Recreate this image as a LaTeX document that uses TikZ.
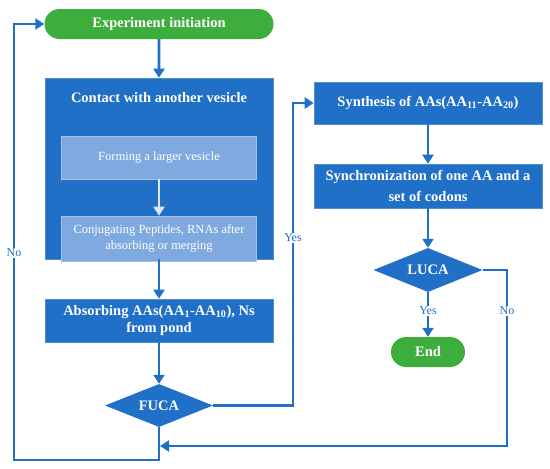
\documentclass[tikz,border=0pt]{standalone}
\usepackage{fontspec}
\setmainfont{Liberation Serif}
\usetikzlibrary{shapes.geometric, shapes.misc, positioning, arrows.meta}
\definecolor{boxblue}{HTML}{2070C8}
\definecolor{paleblue}{HTML}{80AADF}
\definecolor{arrowpale}{HTML}{DCE6F5}
\definecolor{pillgreen}{HTML}{3DAD3D}
\begin{document}
\begin{tikzpicture}[x=1pt,y=-1pt,on grid,
  >={Triangle[length=9pt,width=11pt]},
  every node/.style={inner sep=0pt,text=white,font=\fontsize{14.5}{17}\selectfont\bfseries},
  pill/.style={rounded rectangle,fill=pillgreen,minimum height=30pt},
  block/.style={rectangle,fill=boxblue,draw=boxblue!80!white,line width=0.6pt,minimum width=228pt,align=center},
  inner/.style={rectangle,fill=paleblue,draw=paleblue!70!white,line width=0.6pt,minimum width=195pt,align=center,font=\fontsize{12.5}{16}\selectfont},
  choice/.style={diamond,aspect=2.5,fill=boxblue,minimum width=108pt,minimum height=43pt},
  flow/.style={draw=boxblue,line width=2.9pt},
  innerflow/.style={draw=arrowpale,line width=2.9pt},
  answer/.style={fill=white,text=boxblue,font=\fontsize{12}{13}\selectfont,inner sep=1.5pt}]
  \useasboundingbox (0,0) rectangle (550,469);
  \node[pill,minimum width=229pt] (init) at (159,24) {Experiment initiation};
  \node[block,minimum height=181pt] (contact) [below=144.5pt of init] {};
  \node (contacttitle) [below=15pt of contact.north] {Contact with another vesicle};
  \node[inner,minimum height=43pt] (forming) [below=58pt of contact.north] {Forming a larger vesicle};
  \node[inner,minimum height=45pt] (conj) [below=81pt of forming] {Conjugating Peptides, RNAs after\\absorbing or merging};
  \node[block,minimum height=43pt] (absorb) [below=152pt of contact] {Absorbing AAs(AA\textsubscript{1}-AA\textsubscript{10}), Ns\\from pond};
  \node[choice] (fuca) [below=85pt of absorb] {FUCA};
  \node[block,minimum height=42pt] (synth) at (428,103) {Synthesis of AAs(AA\textsubscript{11}-AA\textsubscript{20})};
  \node[block,minimum height=44pt,font=\fontsize{14.5}{21}\selectfont\bfseries] (sync) [below=83pt of synth] {Synchronization of one AA and a\\set of codons};
  \node[choice,minimum width=109pt,minimum height=44pt] (luca) [below=84pt of sync] {LUCA};
  \node[pill,minimum width=74pt] (end) [below=82pt of luca] {End};
  \coordinate (nobottom) at (159,460);
  \coordinate (noleft) at (14,24);
  \coordinate (yesleft) at (293,103);
  \coordinate (noright) at (507,446);
  \coordinate (nojoin) at (160,446);
  \draw[flow,->] (init) -- (contact);
  \draw[innerflow,->] (forming) -- (conj);
  \draw[flow,->] (contact) -- (absorb);
  \draw[flow,->] (absorb) -- (fuca);
  \draw[flow,->] (fuca.south) -- (nobottom) -| (noleft) -- (init.west);
  \draw[flow,->] (fuca.east) -| (yesleft) -- (synth.west);
  \draw[flow,->] (synth) -- (sync);
  \draw[flow,->] (sync) -- (luca);
  \draw[flow,->] (luca) -- (end);
  \draw[flow,->] (luca.east) -| (noright) -- (nojoin);
  \node[answer] (nofuca) at (14,253) {No};
  \node[answer] (yesfuca) at (293,238) {Yes};
  \node[answer] (yesluca) at (428,311) {Yes};
  \node[answer] (noluca) at (507,311) {No};
\end{tikzpicture}
\end{document}
